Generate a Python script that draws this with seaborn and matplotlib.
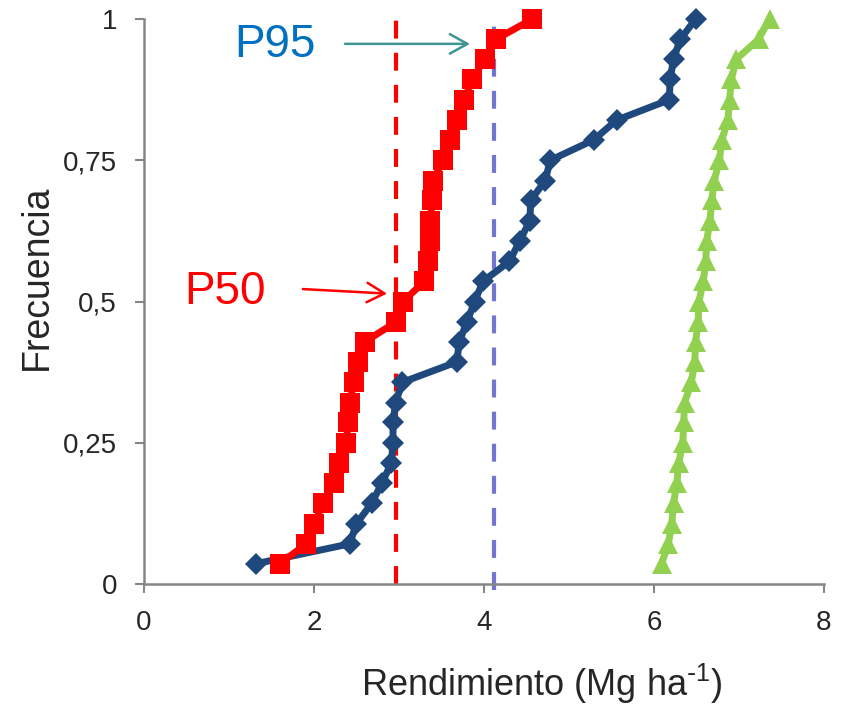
import matplotlib
matplotlib.use("Agg")
import matplotlib.pyplot as plt
import seaborn as sns

# Frecuencia acumulada (28 valores)
frecuencia = [0.036, 0.071, 0.107, 0.143, 0.179, 0.214, 0.250, 0.286, 0.321, 0.357,
              0.393, 0.429, 0.464, 0.500, 0.536, 0.571, 0.607, 0.643, 0.679, 0.714,
              0.750, 0.786, 0.821, 0.857, 0.893, 0.929, 0.964, 1.000]

# Rendimiento (Mg ha-1) de cada serie
rend_rojo = [1.60, 1.91, 2.00, 2.11, 2.23, 2.29, 2.38, 2.40, 2.42, 2.47,
             2.52, 2.60, 2.97, 3.05, 3.30, 3.34, 3.36, 3.37, 3.39, 3.40,
             3.52, 3.60, 3.68, 3.77, 3.86, 4.01, 4.14, 4.57]
rend_azul = [1.32, 2.42, 2.50, 2.68, 2.80, 2.91, 2.93, 2.93, 2.96, 3.04,
             3.68, 3.71, 3.80, 3.89, 3.99, 4.30, 4.42, 4.54, 4.55, 4.72,
             4.78, 5.29, 5.56, 6.18, 6.19, 6.23, 6.31, 6.49]
rend_verde = [6.09, 6.17, 6.21, 6.23, 6.27, 6.29, 6.34, 6.35, 6.36, 6.44,
              6.48, 6.49, 6.52, 6.53, 6.58, 6.61, 6.62, 6.66, 6.68, 6.71,
              6.77, 6.80, 6.87, 6.89, 6.91, 6.97, 7.23, 7.36]

# Percentiles marcados
p50 = 2.97
p95 = 4.12

xticks = [0, 2, 4, 6, 8]
yticks = [0, 0.25, 0.5, 0.75, 1]
ytick_labels = ['0', '0,25', '0,5', '0,75', '1']

sns.set_style("white")
plt.rcParams['font.family'] = ['Liberation Sans', 'DejaVu Sans']
plt.rcParams['mathtext.default'] = 'regular'

fig, ax = plt.subplots(figsize=(8.45, 7.07), dpi=100)
fig.subplots_adjust(left=0.1704, right=0.9751, bottom=0.174, top=0.9731)

# lineas de percentiles
ax.plot([p50, p50], [0, 1.0], color='#ff0000', lw=3, dashes=(4.3, 3.4), clip_on=False, zorder=1)
ax.plot([p95, p95], [-0.01, 0.99], color='#7474d2', lw=3, dashes=(4.3, 3.4), clip_on=False, zorder=1)

# series
sns.lineplot(x=rend_azul, y=frecuencia, ax=ax, color='#1f497d', marker='D',
             markersize=11, markeredgewidth=0, linewidth=5, sort=False,
             estimator=None, clip_on=False, zorder=2)
sns.lineplot(x=rend_rojo, y=frecuencia, ax=ax, color='#ff0000', marker='s',
             markersize=14.4, markeredgewidth=0, linewidth=5, sort=False,
             estimator=None, clip_on=False, zorder=3)
sns.lineplot(x=rend_verde, y=frecuencia, ax=ax, color='#92d050', marker='^',
             markersize=14.4, markeredgewidth=0, linewidth=5, sort=False,
             estimator=None, clip_on=False, zorder=3)

# anotaciones
ax.text(1.54, 0.954, 'P95', color='#0070c0', fontsize=33, ha='center', va='center')
ax.annotate('', xy=(3.835, 0.956), xytext=(2.365, 0.956),
            arrowprops=dict(arrowstyle='->, head_length=0.45, head_width=0.25',
                            color='#3d9690', lw=1.8, mutation_scale=28,
                            shrinkA=0, shrinkB=0))
ax.text(0.95, 0.517, 'P50', color='#ff0000', fontsize=33, ha='center', va='center')
ax.annotate('', xy=(2.86, 0.514), xytext=(1.87, 0.522),
            arrowprops=dict(arrowstyle='->, head_length=0.45, head_width=0.25',
                            color='#ff0000', lw=1.8, mutation_scale=28,
                            shrinkA=0, shrinkB=0))

ax.set_xlim(0, 8)
ax.set_ylim(0, 1)
ax.set_xticks(xticks)
ax.set_xticklabels([str(t) for t in xticks])
ax.set_yticks(yticks)
ax.set_yticklabels(ytick_labels)

ax.set_xlabel('Rendimiento (Mg ha$^{\\text{-}1}$)', fontsize=26)
ax.set_ylabel('Frecuencia', fontsize=27)
ax.xaxis.set_label_coords(0.585, -0.138)
ax.yaxis.set_label_coords(-0.131, 0.542)

ax.tick_params(axis='both', which='major', direction='out', length=6.5, width=1.5,
               color='#868686', labelsize=20, bottom=True, left=True)
ax.tick_params(axis='x', pad=12)
ax.tick_params(axis='y', pad=13)

sns.despine(ax=ax)
for side in ['left', 'bottom']:
    ax.spines[side].set_color('#868686')
    ax.spines[side].set_linewidth(1.8)

plt.savefig('out.png', dpi=100)
